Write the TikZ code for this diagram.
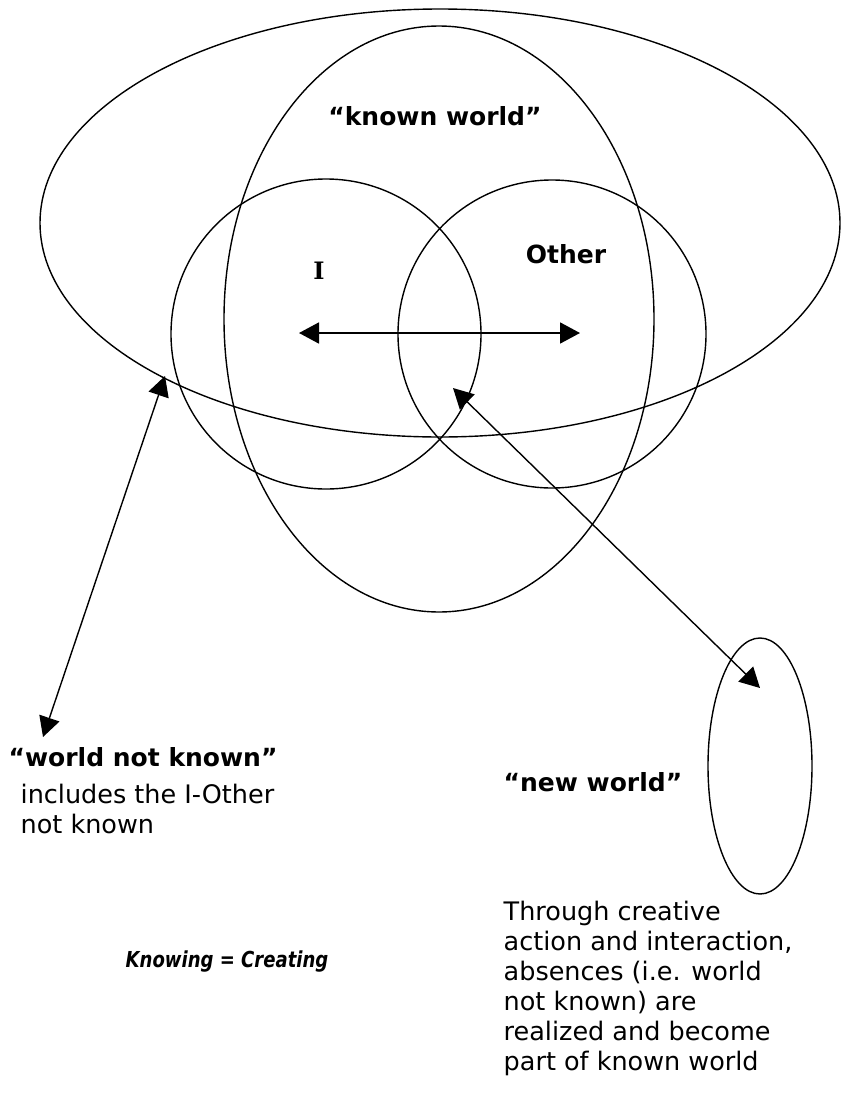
\documentclass[tikz,border=0pt]{standalone}
\usepackage{fontspec}
\setmainfont{DejaVu Sans}
\newfontfamily\serifI{DejaVu Serif}
\newfontfamily\mottofont{DejaVu Sans}[FakeStretch=0.82]
\usetikzlibrary{arrows.meta}

\tikzset{
  lbl/.style={inner sep=0pt,font=\fontsize{25}{30}\selectfont\bfseries},
  txt/.style={inner sep=0pt,align=left,font=\fontsize{25.5}{30}\selectfont},
}

\begin{document}
\begin{tikzpicture}[x=1pt,y=-1pt,line width=1.4pt,>={Triangle[length=20pt,width=21pt]}]
  \useasboundingbox (0,0) rectangle (841,1103);
  % worlds
  \draw (440,223) ellipse [x radius=400,y radius=214];
  \draw (439,319) ellipse [x radius=215,y radius=293];
  % I and Other
  \draw (326,334) circle [radius=155];
  \draw (552,334) circle [radius=154];
  % new world
  \draw (760,766) ellipse [x radius=52,y radius=128];
  % labels
  \node[lbl] (known) at (435,116) {``known world''};
  \node[lbl,font=\fontsize{24}{30}\selectfont\serifI\bfseries] (self) at (319,271) {I};
  \node[lbl] (other) at (566,254) {Other};
  \node[lbl,anchor=west] (notknown) at (8,757) {``world not known''};
  \node[txt,anchor=north west] (notknownx) at (20,783) {includes the I-Other\\not known};
  \node[lbl,anchor=west] (new) at (503,782) {``new world''};
  \node[txt,anchor=north west] (newx) at (503,900)
    {Through creative\\action and interaction,\\absences (i.e. world\\not known) are\\realized and become\\part of known world};
  \node[lbl,anchor=west,font=\fontsize{22}{26}\selectfont\mottofont\bfseries\itshape] (motto) at (125,962) {Knowing = Creating};
  % arrows
  \coordinate (hl) at (299,333);
  \coordinate (hr) at (580,333);
  \draw[<->,line width=1.8pt] (hl) -- (hr);
  \coordinate (lt) at (165,376);
  \coordinate (lb) at (43,737);
  \draw[<->] (lt) -- (lb);
  \coordinate (rt) at (453,388);
  \coordinate (rb) at (760,688);
  \draw[<->] (rt) -- (rb);
\end{tikzpicture}
\end{document}
